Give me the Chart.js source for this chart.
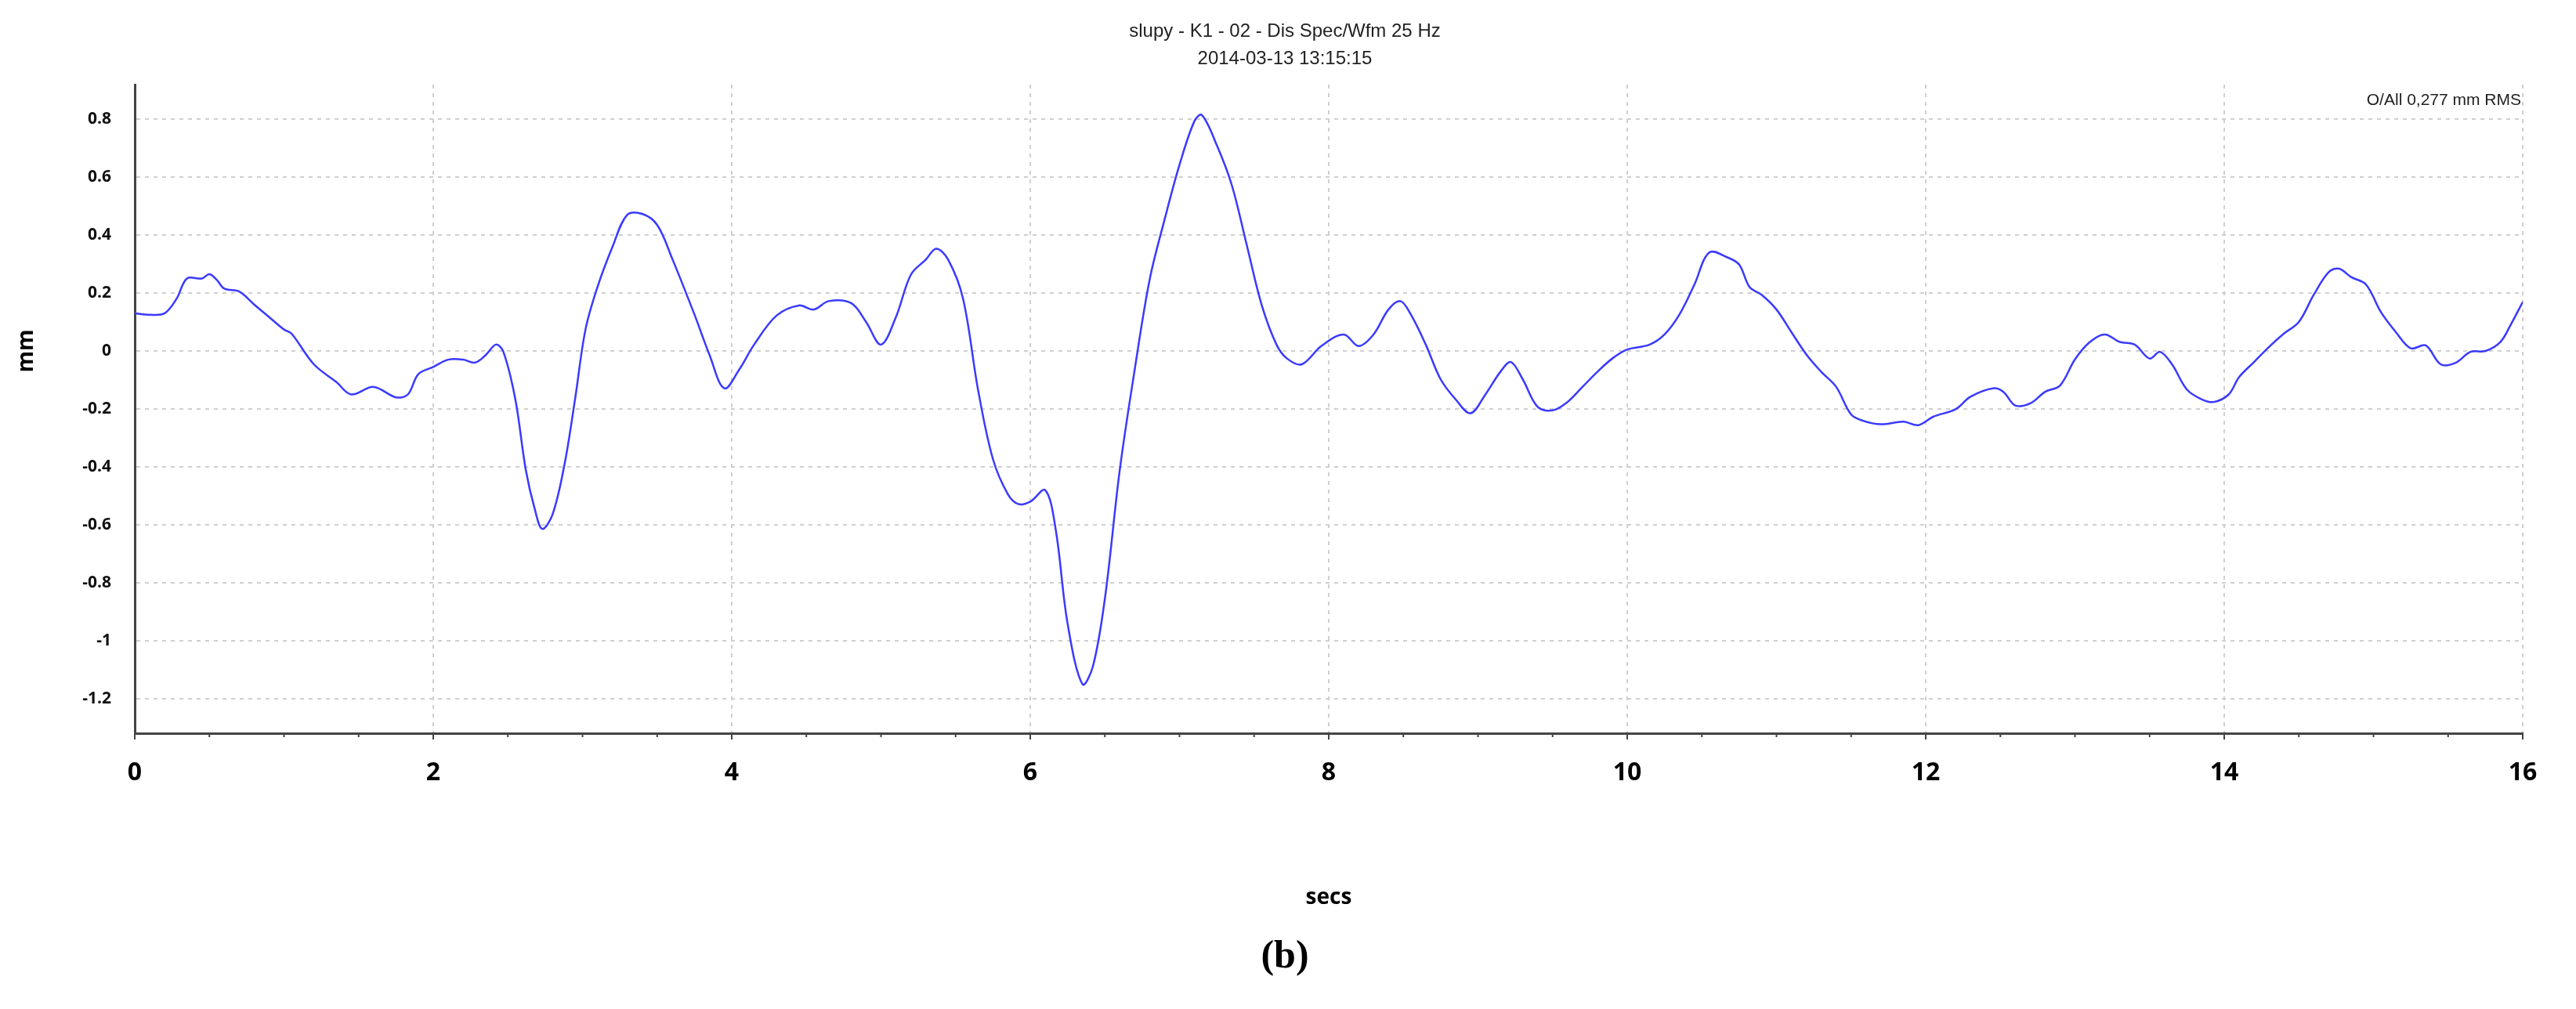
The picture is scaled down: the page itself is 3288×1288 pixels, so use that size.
<!DOCTYPE html>
<html>
<head>
<meta charset="utf-8">
<script src="https://cdn.jsdelivr.net/npm/chart.js@4/dist/chart.umd.min.js"></script>
<style>
  html, body { margin: 0; padding: 0; background: #fff; }
  #wrap { width: 3288px; height: 1288px; }
</style>
</head>
<body>
<div id="wrap"><canvas id="wfm"></canvas></div>
<script>
// waveform (seconds, mm)
const times = [0, 0.1, 0.2, 0.28, 0.35, 0.45, 0.5, 0.55, 0.6, 0.7, 0.8, 0.9, 1.0, 1.05, 1.2, 1.35, 1.45, 1.6, 1.75, 1.83, 1.9,
  2.0, 2.1, 2.2, 2.28, 2.35, 2.42, 2.47, 2.55, 2.62, 2.68, 2.73, 2.8, 2.88, 2.95, 3.02, 3.1, 3.2, 3.3, 3.4, 3.5, 3.6, 3.75,
  3.85, 3.95, 4.05, 4.15, 4.3, 4.45, 4.55, 4.65, 4.8, 4.9, 5.0, 5.1, 5.2, 5.3, 5.37, 5.45, 5.55, 5.65, 5.75, 5.85, 5.92,
  6.0, 6.1, 6.17, 6.25, 6.35, 6.42, 6.5, 6.6, 6.7, 6.8, 6.9, 7.0, 7.1, 7.15, 7.25, 7.35, 7.45, 7.55, 7.65, 7.72, 7.82,
  7.95, 8.1, 8.2, 8.3, 8.4, 8.48, 8.55, 8.65, 8.75, 8.85, 8.95, 9.05, 9.15, 9.22, 9.3, 9.4, 9.5, 9.6, 9.7, 9.8, 9.9,
  10.0, 10.15, 10.25, 10.35, 10.45, 10.55, 10.67, 10.75, 10.82, 10.9, 11.0, 11.1, 11.2, 11.3, 11.4, 11.5, 11.58, 11.7,
  11.85, 11.95, 12.05, 12.2, 12.3, 12.45, 12.52, 12.6, 12.7, 12.8, 12.9, 13.0, 13.1, 13.2, 13.3, 13.4, 13.5, 13.57,
  13.65, 13.75, 13.85, 13.93, 14.03, 14.1, 14.2, 14.3, 14.4, 14.5, 14.6, 14.7, 14.77, 14.85, 14.95, 15.05, 15.15,
  15.25, 15.35, 15.45, 15.55, 15.65, 15.75, 15.85, 15.92, 16.0];
const disp = [0.13, 0.125, 0.13, 0.18, 0.25, 0.25, 0.265, 0.245, 0.215, 0.205, 0.16, 0.117, 0.074, 0.06, -0.046, -0.107, -0.15, -0.124, -0.16, -0.15, -0.08,
  -0.055, -0.03, -0.03, -0.04, -0.015, 0.022, -0.003, -0.167, -0.41, -0.545, -0.614, -0.563, -0.39, -0.167, 0.074, 0.22, 0.358, 0.47, 0.473, 0.435, 0.32, 0.126,
  -0.012, -0.129, -0.064, 0.022, 0.122, 0.157, 0.143, 0.172, 0.165, 0.1, 0.022, 0.117, 0.263, 0.315, 0.353, 0.315, 0.18, -0.133, -0.373, -0.494, -0.528,
  -0.52, -0.48, -0.614, -0.94, -1.15, -1.088, -0.855, -0.41, -0.064, 0.246, 0.453, 0.642, 0.793, 0.814, 0.71, 0.573, 0.367, 0.16, 0.022, -0.026, -0.046,
  0.017, 0.057, 0.017, 0.057, 0.143, 0.172, 0.126, 0.022, -0.098, -0.167, -0.215, -0.15, -0.072, -0.038, -0.098, -0.193, -0.205, -0.176, -0.124, -0.072, -0.026,
  0.005, 0.022, 0.057, 0.126, 0.229, 0.34, 0.323, 0.298, 0.22, 0.194, 0.143, 0.065, -0.012, -0.072, -0.124, -0.219, -0.241, -0.253,
  -0.244, -0.256, -0.227, -0.201, -0.158, -0.129, -0.141, -0.188, -0.181, -0.141, -0.119, -0.029, 0.031, 0.057, 0.031, 0.022, -0.026, -0.003,
  -0.046, -0.133, -0.167, -0.176, -0.15, -0.09, -0.038, 0.014, 0.06, 0.1, 0.194, 0.272, 0.284, 0.255, 0.229, 0.134, 0.065,
  0.009, 0.019, -0.046, -0.041, -0.003, 0, 0.031, 0.091, 0.169];

const xTicks = [0, 2, 4, 6, 8, 10, 12, 14, 16];
const yTicks = [-1.2, -1, -0.8, -0.6, -0.4, -0.2, 0, 0.2, 0.4, 0.6, 0.8];
const titleLines = ['slupy - K1 - 02 - Dis Spec/Wfm 25 Hz', '2014-03-13 13:15:15'];
const rmsText = 'O/All 0,277 mm RMS';

const textPlugin = {
  id: 'texts',
  afterDraw(chart) {
    const ctx = chart.ctx, a = chart.chartArea;
    ctx.save();
    ctx.fillStyle = '#222';
    ctx.textAlign = 'center';
    ctx.textBaseline = 'middle';
    ctx.font = '24px "Liberation Sans", Arial, sans-serif';
    ctx.fillText(titleLines[0], 1640, 40);
    ctx.fillText(titleLines[1], 1640, 75);
    ctx.textAlign = 'right';
    ctx.font = '21px "Liberation Sans", Arial, sans-serif';
    ctx.fillText(rmsText, a.right - 2, 128);
    ctx.textAlign = 'center';
    ctx.fillStyle = '#000';
    ctx.font = 'bold 28px "Open Sans", "DejaVu Sans", sans-serif';
    ctx.fillText('secs', (a.left + a.right) / 2, 1146);
    ctx.save();
    ctx.translate(34, 448);
    ctx.rotate(-Math.PI / 2);
    ctx.fillText('mm', 0, 0);
    ctx.restore();
    ctx.font = 'bold 50px "Liberation Serif", serif';
    ctx.fillText('(b)', 1640, 1222);
    // minor ticks on the x axis
    const xs = chart.scales.x;
    ctx.strokeStyle = '#444';
    ctx.lineWidth = 2;
    for (let t = 0; t <= 16; t += 0.5) {
      const px = xs.getPixelForValue(t);
      ctx.beginPath();
      ctx.moveTo(px, a.bottom);
      ctx.lineTo(px, a.bottom + (t % 2 === 0 ? 8 : 5));
      ctx.stroke();
    }
    ctx.restore();
  }
};

new Chart(document.getElementById('wfm'), {
  type: 'line',
  data: {
    datasets: [{
      data: times.map((t, i) => ({ x: t, y: disp[i] })),
      borderColor: '#3a3aff',
      borderWidth: 2.5,
      pointRadius: 0,
      tension: 0.35,
      fill: false
    }]
  },
  options: {
    responsive: true,
    maintainAspectRatio: false,
    animation: false,
    layout: { padding: { top: 108, right: 68, left: 0, bottom: 0 } },
    plugins: { legend: { display: false }, tooltip: { enabled: false } },
    scales: {
      x: {
        type: 'linear',
        min: 0,
        max: 16,
        afterBuildTicks: s => { s.ticks = xTicks.map(v => ({ value: v })); },
        afterFit: s => { s.height = 352; },
        ticks: {
          color: '#000',
          padding: 32,
          font: { family: '"Open Sans", "DejaVu Sans", sans-serif', size: 32, weight: 'bold' },
          maxRotation: 0
        },
        grid: { color: '#cfcfcf', lineWidth: 2, drawTicks: false },
        border: { display: true, color: '#444', width: 3, dash: [5, 6] }
      },
      y: {
        min: -1.319,
        max: 0.919,
        afterBuildTicks: s => { s.ticks = yTicks.map(v => ({ value: v })); },
        afterFit: s => { s.width = 172; },
        ticks: {
          color: '#111',
          padding: 30,
          font: { family: '"Open Sans", "DejaVu Sans", sans-serif', size: 21, weight: 'bold' },
          callback: v => String(Math.round(v * 10) / 10)
        },
        grid: { color: '#cfcfcf', lineWidth: 2, drawTicks: false },
        border: { display: true, color: '#444', width: 3, dash: [5, 6] }
      }
    }
  },
  plugins: [textPlugin]
});
</script>
</body>
</html>
